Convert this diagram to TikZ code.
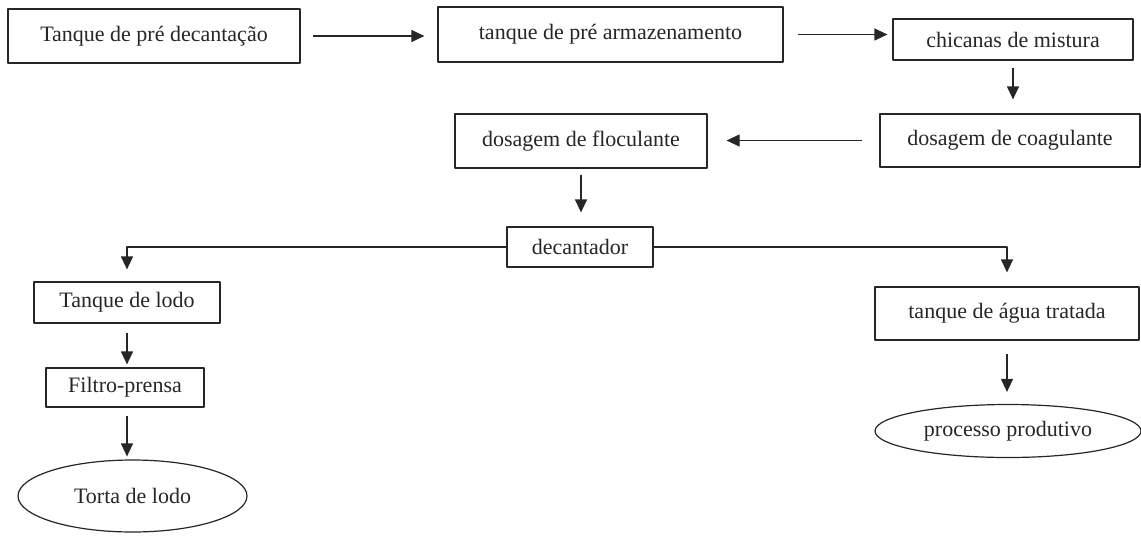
\documentclass[tikz,border=0pt]{standalone}
\usepackage{fontspec}
\setmainfont{Liberation Serif}
\usetikzlibrary{shapes.geometric,arrows.meta}
\tikzset{caixa/.style={draw, line width=0.6pt, inner sep=0pt},
  seta/.style={->, line width=0.6pt}}
\begin{document}
\begin{tikzpicture}[x=0.5pt, y=-0.5pt, font=\fontsize{11}{13}\selectfont, line join=round, >={Triangle[length=6.5pt,width=6pt]}, color=black!85]
\useasboundingbox (0,0) rectangle (1141,541);
%caixas do processo
\foreach \n/\x/\y/\w/\h/\t in {c1/154/36/146/27/Tanque de pré decantação,
  c2/610.5/34.5/172.5/27.5/tanque de pré armazenamento,
  c3/1013/39.5/120/20.5/chicanas de mistura,
  coag/1010/140.5/130/26.5/dosagem de coagulante,
  floc/581/141/126/27/dosagem de floculante,
  dec/580/247/73/20/decantador,
  lodo/127/302.5/93/20.5/Tanque de lodo,
  filtro/125/387.5/79/19.5/Filtro-prensa,
  agua/1007/313.5/132/26.5/tanque de água tratada}
\node[caixa, minimum width=\w pt, minimum height=\h pt] (\n) at (\x,\y) {\t};
\node[caixa, ellipse, minimum width=114.5pt, minimum height=36pt] (torta) at (132.5,496) {Torta de lodo};
\node[caixa, ellipse, minimum width=133pt, minimum height=26.5pt] (proc) at (1008,431) {processo produtivo};
%setas
\draw[seta, shorten <=6pt, shorten >=6.5pt] (c1) -- (c2.west |- c1);
\draw[seta, shorten <=7pt, shorten >=2.5pt] (c2.east) -- (c2.east -| c3.west);
\draw[seta, shorten <=3.5pt, shorten >=7pt] (c3.south) -- (c3.south |- coag.north);
\draw[seta, shorten <=8.5pt, shorten >=9.5pt] (coag.west) -- (coag.west -| floc.east);
\draw[seta, shorten <=3pt, shorten >=7pt] (floc.south) -- (floc.south |- dec.north);
\draw[seta, shorten >=6pt] (dec.west) -| (lodo.north);
\draw[seta, shorten >=7pt] (dec.east) -| (agua.north);
\draw[seta, shorten <=4.5pt, shorten >=1.5pt] (lodo.south) -- (lodo.south |- filtro.north);
\draw[seta, shorten <=4pt, shorten >=1.5pt] (filtro.south -| lodo) -- (lodo |- torta.north);
\draw[seta, shorten <=6.5pt, shorten >=6pt] (agua.south) -- (agua.south |- proc.north);
\end{tikzpicture}
\end{document}
